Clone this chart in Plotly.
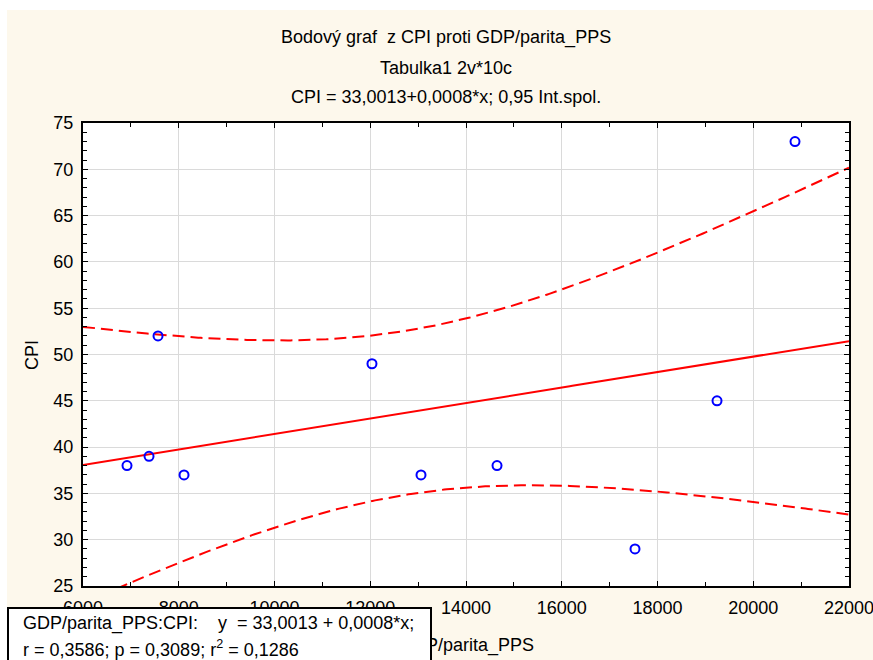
import numpy as np
import plotly.graph_objects as go

# ---- data ----
gdp_pps = [6919, 7379, 7567, 8110, 12036, 13060, 14648, 17530, 19243, 20872]
cpi = [38, 39, 52, 37, 49, 37, 38, 29, 45, 73]

title_lines = ["Bodový graf\u00a0 z CPI proti GDP/parita_PPS",
               "Tabulka1 2v*10c",
               "CPI = 33,0013+0,0008*x; 0,95 Int.spol."]
legend_lines = ["GDP/parita_PPS:CPI:\u00a0\u00a0\u00a0 y\u00a0 = 33,0013 + 0,0008*x;",
                "r = 0,3586; p = 0,3089; r<sup>2</sup> = 0,1286"]
x_title = "GDP/parita_PPS"
y_title = "CPI"
x_range = [6000, 22000]
y_range = [25, 75]
t_crit = 2.306  # t(0.975, 8)

# ---- regression + 95% confidence band for the mean ----
x = np.array(gdp_pps, float)
y = np.array(cpi, float)
n = len(x)
slope, intercept = np.polyfit(x, y, 1)
resid = y - (intercept + slope * x)
s = np.sqrt((resid ** 2).sum() / (n - 2))
sxx = ((x - x.mean()) ** 2).sum()
xs = np.linspace(x_range[0], x_range[1], 300)
yhat = intercept + slope * xs
half = t_crit * s * np.sqrt(1 / n + (xs - x.mean()) ** 2 / sxx)

# ---- geometry helpers (pixels -> paper) ----
W, H = 873, 660
L, R, T, B = 83, 849, 123, 586
def px(v):
    return (v - L) / (R - L)
def py(v):
    return (B - v) / (B - T)

FONT = "Liberation Sans, Arial, sans-serif"
FS = 18
CREAM = "#fdf8ec"

fig = go.Figure()
dash = "12px,6px"
fig.add_trace(go.Scatter(x=xs, y=yhat + half, mode="lines",
                         line=dict(color="#ff0000", width=2, dash=dash),
                         hoverinfo="skip"))
fig.add_trace(go.Scatter(x=xs, y=yhat - half, mode="lines",
                         line=dict(color="#ff0000", width=2, dash=dash),
                         hoverinfo="skip"))
fig.add_trace(go.Scatter(x=xs, y=yhat, mode="lines",
                         line=dict(color="#ff0000", width=2), hoverinfo="skip"))
fig.add_trace(go.Scatter(x=gdp_pps, y=cpi, mode="markers",
                         marker=dict(symbol="circle-open", size=9, color="#0000ff",
                                     line=dict(width=2, color="#0000ff"))))

axis_common = dict(showline=True, linecolor="black", linewidth=2, mirror="allticks",
                   ticks="inside", tickcolor="black", ticklen=5, tickwidth=1,
                   showgrid=True, gridcolor="#dadada", gridwidth=1, zeroline=False,
                   tickformat="d", ticklabeloverflow="allow", automargin=False,
                   tickfont=dict(family=FONT, size=FS, color="black"))

fig.update_xaxes(range=x_range, dtick=2000, tick0=6000,
                 minor=dict(dtick=1000, ticks="inside", ticklen=4, tickcolor="black", showgrid=False),
                 ticklabelstandoff=4, **axis_common)
fig.update_yaxes(range=y_range, dtick=5, tick0=25,
                 minor=dict(dtick=1, ticks="inside", ticklen=4, tickcolor="black", showgrid=False),
                 ticklabelstandoff=4, **axis_common)

annotations = []
for txt, yy in zip(title_lines, [38, 68, 97]):
    annotations.append(dict(text=txt, x=px(446), y=py(yy), xref="paper", yref="paper",
                            xanchor="center", yanchor="middle", showarrow=False,
                            font=dict(family=FONT, size=FS, color="black")))
annotations.append(dict(text=y_title, x=px(32), y=py(355), xref="paper", yref="paper",
                        textangle=-90, xanchor="center", yanchor="middle", showarrow=False,
                        font=dict(family=FONT, size=FS, color="black")))
annotations.append(dict(text=x_title, x=px(466), y=py(645), xref="paper", yref="paper",
                        xanchor="center", yanchor="middle", showarrow=False,
                        font=dict(family=FONT, size=FS, color="black")))
# legend box (covers part of the axis labels, as in the reference)
annotations.append(dict(text="\u00a0", x=px(7), y=py(607), xref="paper", yref="paper",
                        xanchor="left", yanchor="top", showarrow=False,
                        width=421, height=60, bgcolor="white", bordercolor="black",
                        borderwidth=2, borderpad=0, font=dict(size=FS)))
for txt, yy in zip(legend_lines, [623, 648]):
    annotations.append(dict(text=txt, x=px(21), y=py(yy), xref="paper", yref="paper",
                            xanchor="left", yanchor="middle", showarrow=False,
                            font=dict(family=FONT, size=FS, color="black")))

shapes = [
    dict(type="rect", xref="paper", yref="paper", x0=px(0), x1=px(W), y0=py(0), y1=py(10),
         fillcolor="white", line=dict(width=0), layer="below"),
    dict(type="rect", xref="paper", yref="paper", x0=px(0), x1=px(7), y0=py(0), y1=py(H),
         fillcolor="white", line=dict(width=0), layer="below"),
]

fig.update_layout(width=W, height=H, margin=dict(l=L, r=W - R, t=T, b=H - B, autoexpand=False),
                  paper_bgcolor=CREAM, plot_bgcolor="white", showlegend=False,
                  annotations=annotations, shapes=shapes)

fig.write_html("out.html")
